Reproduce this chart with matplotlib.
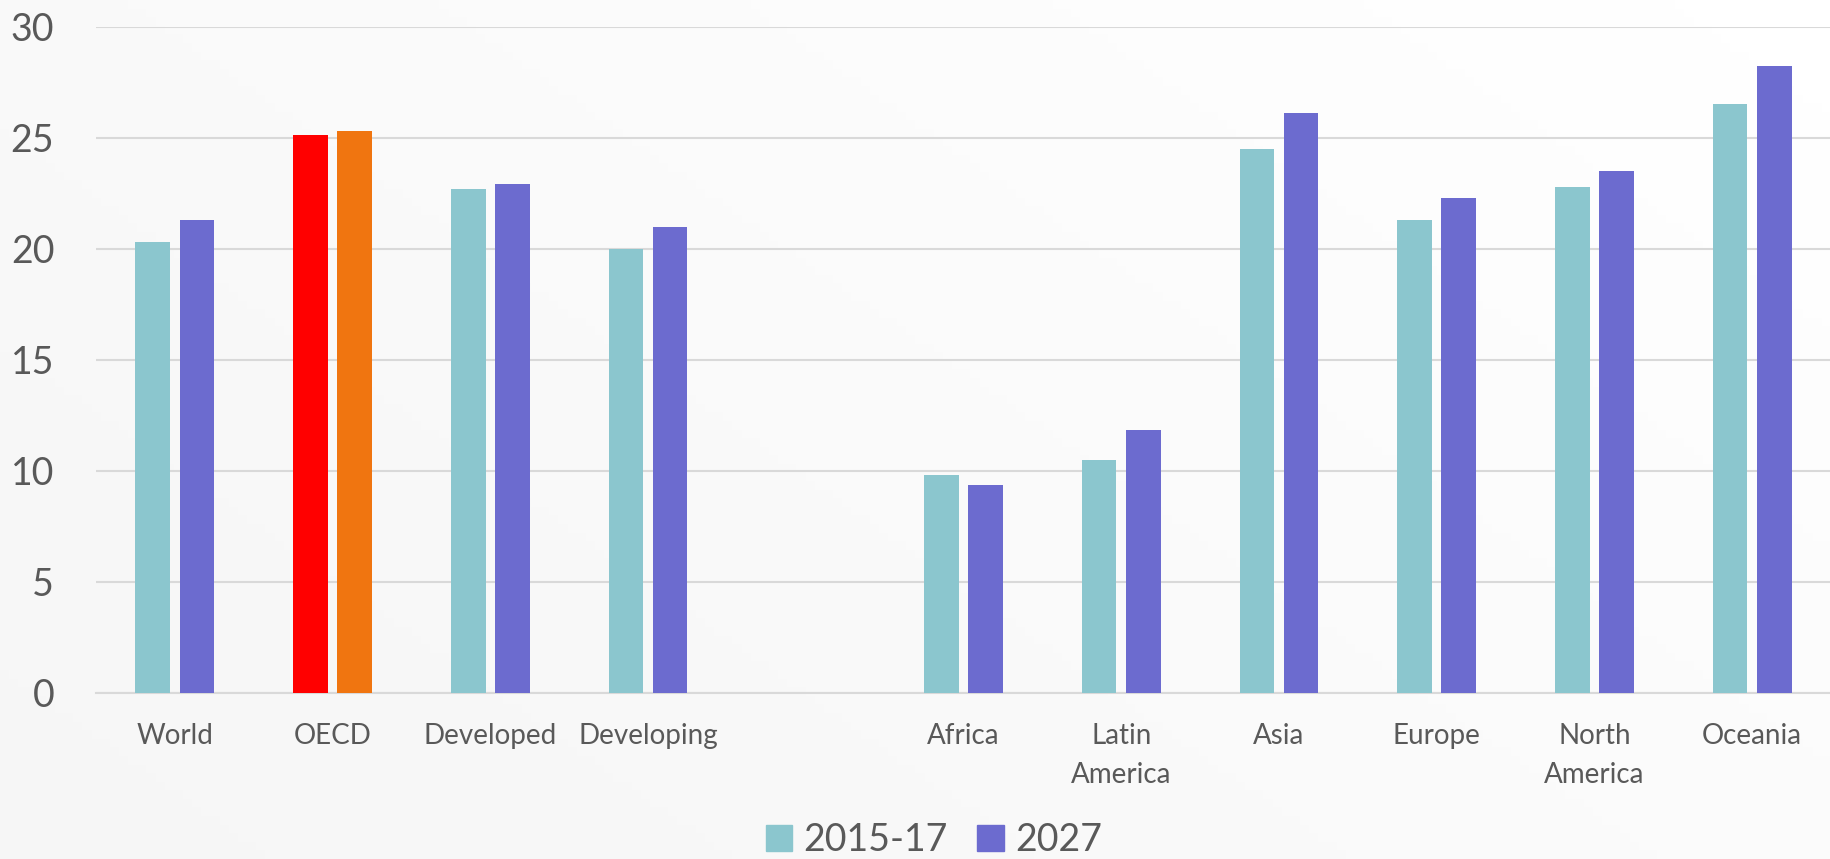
import numpy as np
import matplotlib.pyplot as plt
from matplotlib.patches import Patch

# Categories (empty slot separates the aggregates from the regions)
categories = ["World", "OECD", "Developed", "Developing", "",
              "Africa", "Latin\nAmerica", "Asia", "Europe", "North\nAmerica", "Oceania"]
values_2015_17 = [20.3, 25.1, 22.7, 20.0, np.nan, 9.8, 10.5, 24.5, 21.3, 22.8, 26.5]
values_2027 = [21.3, 25.3, 22.9, 21.0, np.nan, 9.35, 11.85, 26.1, 22.3, 23.5, 28.25]
series_labels = ["2015-17", "2027"]
y_ticks = [0, 5, 10, 15, 20, 25, 30]

teal = "#8BC6CE"
purple = "#6C6BCF"
text_color = "#595959"
grid_color = "#D9D9D9"

plt.rcParams['font.family'] = ['Lato', 'DejaVu Sans']

fig = plt.figure(figsize=(18.31, 8.59), dpi=100)

# subtle diagonal background gradient
bg = fig.add_axes([0, 0, 1, 1], zorder=-10)
gx, gy = np.meshgrid(np.linspace(0, 1, 200), np.linspace(0, 1, 100))
bg.imshow(gx * 0.6 + gy * 0.4, cmap="Greys_r", vmin=-12, vmax=1.0,
          aspect="auto", extent=[0, 1, 0, 1], origin="lower")
bg.axis("off")

ax = fig.add_axes([0.0524, 0.1936, 0.9476, 0.7753])
ax.patch.set_alpha(0)

x = np.arange(len(categories))
w = 0.22
off = 0.14
colors_a = [teal] * len(categories)
colors_b = [purple] * len(categories)
colors_a[1] = "#FF0000"  # OECD highlighted
colors_b[1] = "#F07510"

ax.bar(x - off, values_2015_17, width=w, color=colors_a, zorder=3)
ax.bar(x + off, values_2027, width=w, color=colors_b, zorder=3)

ax.set_xlim(-0.5, len(categories) - 0.5)
ax.set_ylim(0, 30)
ax.set_yticks(y_ticks)
ax.yaxis.grid(True, color=grid_color, linewidth=1.5, zorder=0)
ax.set_axisbelow(True)
for s in ["top", "right", "left"]:
    ax.spines[s].set_visible(False)
ax.spines["bottom"].set_color(grid_color)
ax.spines["bottom"].set_linewidth(1.5)

ax.set_xticks(x)
ax.set_xticklabels(categories, fontsize=20, color=text_color, linespacing=1.6)
ax.tick_params(axis="x", length=0, pad=22)
ax.tick_params(axis="y", length=0, pad=30, labelsize=27, labelcolor=text_color)

handles = [Patch(color=teal), Patch(color=purple)]
fig.legend(handles, series_labels, loc="lower center", bbox_to_anchor=(0.51, -0.038),
           ncol=2, frameon=False, fontsize=27, labelcolor=text_color,
           handlelength=0.7, handleheight=0.7, handletextpad=0.3, columnspacing=0.8)

fig.savefig("out.png", dpi=100)
